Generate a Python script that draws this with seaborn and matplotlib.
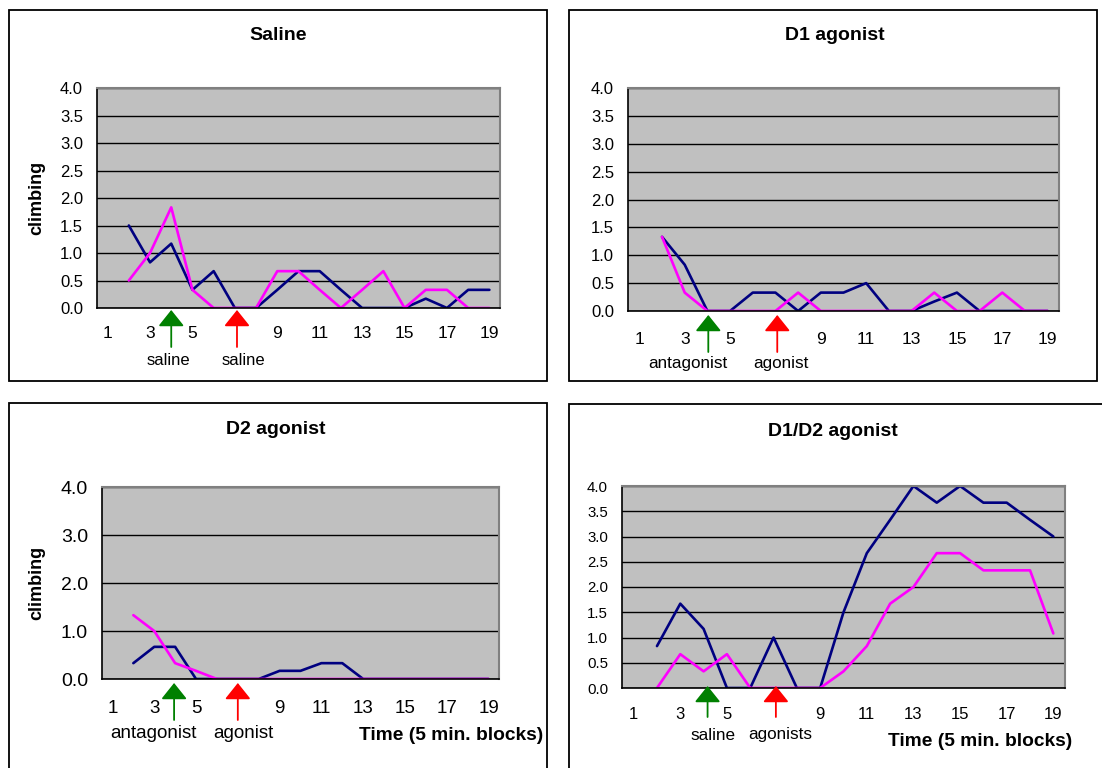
import numpy as np
import pandas as pd
import matplotlib
matplotlib.use('Agg')
import matplotlib.pyplot as plt
import seaborn as sns
from matplotlib.patches import Rectangle
from matplotlib.ticker import FixedLocator, MultipleLocator

# blocks 2..19 (block 1 has no data)
blocks = list(range(2, 20))

saline_navy = [1.5, 0.83, 1.17, 0.33, 0.67, 0, 0, 0.33, 0.67, 0.67, 0.33, 0, 0, 0, 0.17, 0, 0.33, 0.33]
saline_magenta = [0.5, 1.0, 1.83, 0.33, 0, 0, 0, 0.67, 0.67, 0.33, 0, 0.33, 0.67, 0, 0.33, 0.33, 0, 0]

d1_navy = [1.33, 0.83, 0, 0, 0.33, 0.33, 0, 0.33, 0.33, 0.5, 0, 0, 0.17, 0.33, 0, 0, 0, 0]
d1_magenta = [1.33, 0.33, 0, 0, 0, 0, 0.33, 0, 0, 0, 0, 0, 0.33, 0, 0, 0.33, 0, 0]

d2_navy = [0.33, 0.67, 0.67, 0, 0, 0, 0, 0.17, 0.17, 0.33, 0.33, 0, 0, 0, 0, 0, 0, 0]
d2_magenta = [1.33, 1.0, 0.33, 0.17, 0, 0, 0, 0, 0, 0, 0, 0, 0, 0, 0, 0, 0, 0]

d12_navy = [0.83, 1.67, 1.17, 0, 0, 1.0, 0, 0, 1.5, 2.67, 3.33, 4.0, 3.67, 4.0, 3.67, 3.67, 3.33, 3.0]
d12_magenta = [0, 0.67, 0.33, 0.67, 0, 0, 0, 0, 0.33, 0.83, 1.67, 2.0, 2.67, 2.67, 2.33, 2.33, 2.33, 1.08]

x_labels = [1, 3, 5, 9, 11, 13, 15, 17, 19]

W, H = 1102, 768
sns.set_style('white')
plt.rcParams['font.family'] = ['Liberation Sans', 'DejaVu Sans']
plt.rcParams['text.color'] = 'black'
plt.rcParams['xtick.color'] = 'black'
plt.rcParams['ytick.color'] = 'black'
plt.rcParams['axes.labelcolor'] = 'black'

fig = plt.figure(figsize=(W / 100, H / 100), dpi=100)


def px_axes(l, t, r, b):
    return fig.add_axes([l / W, 1 - b / H, (r - l) / W, (b - t) / H])


def ftext(x, y, s, **kw):
    fig.text(x / W, 1 - y / H, s, **kw)


# chart boxes
for (l, t, r, b) in [(9, 10, 547, 381), (569, 10, 1097, 381), (9, 403, 547, 772), (569, 404, 1103, 772)]:
    fig.patches.append(Rectangle((l / W, 1 - b / H), (r - l) / W, (b - t) / H, transform=fig.transFigure,
                                 fill=False, edgecolor='black', lw=1.3))

panels = [
    dict(box=(97, 88, 500, 308), navy=saline_navy, mag=saline_magenta, ystep=0.5, ytick=12, xtick=12.5, xpad=13,
         title='Saline', tpos=(278, 35), ylab=(37, 198),
         arrows=(4.0, 7.1), tip=310, tail=347, labs=[(3.88, 'saline'), (7.4, 'saline')], labsize=12, laby=360,
         xlabel=None),
    dict(box=(628, 88, 1059, 311), navy=d1_navy, mag=d1_magenta, ystep=0.5, ytick=12, xtick=12.5, xpad=15,
         title='D1 agonist', tpos=(835, 36), ylab=None,
         arrows=(4.04, 7.08), tip=315, tail=352, labs=[(3.16, 'antagonist'), (7.26, 'agonist')], labsize=12.3, laby=363,
         xlabel=None),
    dict(box=(102, 487, 499, 679), navy=d2_navy, mag=d2_magenta, ystep=1.0, ytick=14, xtick=13.5, xpad=15,
         title='D2 agonist', tpos=(276, 429), ylab=(37, 583),
         arrows=(3.95, 7.0), tip=683, tail=720, labs=[(2.96, 'antagonist'), (7.27, 'agonist')], labsize=13.5, laby=733,
         xlabel=(543, 735)),
    dict(box=(622, 486, 1065, 688), navy=d12_navy, mag=d12_magenta, ystep=0.5, ytick=10.8, xtick=12, xpad=13.5,
         title='D1/D2 agonist', tpos=(833, 431), ylab=None,
         arrows=(4.17, 7.1), tip=686, tail=717, labs=[(4.4, 'saline'), (7.27, 'agonists')], labsize=12.3, laby=735,
         xlabel=(1072, 742)),
]

for p in panels:
    l, t, r, b = p['box']
    ax = px_axes(l, t, r, b)
    df = pd.DataFrame({'block': blocks * 2,
                       'climbing': p['navy'] + p['mag'],
                       'group': ['a'] * len(blocks) + ['b'] * len(blocks)})
    sns.lineplot(data=df, x='block', y='climbing', hue='group', ax=ax,
                 palette={'a': '#000080', 'b': '#FF00FF'}, lw=1.9, legend=False)
    ax.set_facecolor('#C0C0C0')
    ax.set_xlim(0.5, 19.5)
    ax.set_ylim(0, 4.0)
    ax.yaxis.set_major_locator(MultipleLocator(p['ystep']))
    ax.yaxis.set_major_formatter(matplotlib.ticker.FormatStrFormatter('%.1f'))
    ax.xaxis.set_major_locator(FixedLocator(x_labels))
    ax.xaxis.set_minor_locator(FixedLocator(np.arange(0.5, 20, 1)))
    ax.set_xticklabels([str(v) for v in x_labels])
    ax.tick_params(axis='x', which='major', length=0, pad=p['xpad'], labelsize=p['xtick'])
    ax.tick_params(axis='x', which='minor', length=4, width=1, color='black', direction='out')
    ax.tick_params(axis='y', length=4, width=1, color='black', direction='out', pad=6, labelsize=p['ytick'])
    ax.grid(axis='y', color='black', lw=1)
    ax.set_axisbelow(True)
    for s in ['top', 'right']:
        ax.spines[s].set_color('#808080')
        ax.spines[s].set_linewidth(1.5)
    for s in ['left', 'bottom']:
        ax.spines[s].set_color('black')
        ax.spines[s].set_linewidth(1.2)
    ax.set_xlabel('')
    ax.set_ylabel('')

    h = b - t
    trans = matplotlib.transforms.blended_transform_factory(ax.transData, ax.transAxes)
    for xa, col in zip(p['arrows'], ['green', 'red']):
        ax.annotate('', xy=(xa, (b - p['tip']) / h), xytext=(xa, (b - p['tail']) / h),
                    xycoords=trans, textcoords=trans, annotation_clip=False,
                    arrowprops=dict(arrowstyle='-|>,head_length=1.0,head_width=0.8', color=col,
                                    lw=1.3, mutation_scale=10, shrinkA=0, shrinkB=0))
    for xa, s in p['labs']:
        ax.text(xa, (b - p['laby']) / h, s, transform=trans, ha='center', va='center',
                fontsize=p['labsize'], clip_on=False)

    ftext(*p['tpos'], p['title'], ha='center', va='center', fontsize=14, fontweight='bold')
    if p['ylab']:
        ftext(*p['ylab'], 'climbing', ha='center', va='center', rotation=90, fontsize=13, fontweight='bold')
    if p['xlabel']:
        ftext(*p['xlabel'], 'Time (5 min. blocks)', ha='right', va='center', fontsize=13.8, fontweight='bold')

fig.savefig('out.png', dpi=100)
